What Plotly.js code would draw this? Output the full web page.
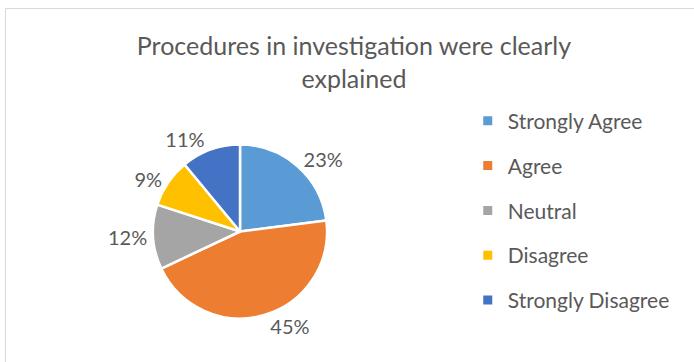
<!DOCTYPE html>
<html>
<head>
<meta charset="utf-8">
<script src="https://cdn.plot.ly/plotly-3.0.1.min.js"></script>
<style>html,body{margin:0;padding:0;background:#fff;}#chart{width:694px;height:362px;}</style>
</head>
<body>
<div id="chart"></div>
<script>
var categories = ["Strongly Agree", "Agree", "Neutral", "Disagree", "Strongly Disagree"];
var values = [23, 45, 12, 9, 11];
var colors = ["#5B9BD5", "#ED7D31", "#A5A5A5", "#FFC000", "#4472C4"];
var titleText = "Procedures in investigation were clearly<br>explained";

var FONT = "Lato, 'Open Sans', sans-serif";
var traces = [{
  type: "pie",
  labels: categories,
  values: values,
  sort: false,
  direction: "clockwise",
  rotation: 0,
  marker: {colors: colors, line: {color: "#ffffff", width: 2.5}},
  textinfo: "percent",
  textposition: "outside",
  texttemplate: "%{percent:.0%}",
  outsidetextfont: {color: "#595959", size: 20, family: FONT},
  showlegend: false,
  hoverinfo: "none",
  domain: {x: [0.2205, 0.4712], y: [0.1202, 0.6008]}
}];
categories.forEach(function (c, i) {
  traces.push({
    type: "scatter",
    mode: "markers",
    x: [null], y: [null],
    name: c,
    legendgroup: "g" + i,
    marker: {symbol: "square", size: 9, color: colors[i]},
    showlegend: true,
    hoverinfo: "none"
  });
});

var layout = {
  width: 694, height: 362,
  margin: {l: 0, r: 0, t: 0, b: 0},
  paper_bgcolor: "#ffffff",
  plot_bgcolor: "rgba(0,0,0,0)",
  font: {family: FONT, color: "#595959"},
  title: {text: titleText, x: 0.51, xanchor: "center", y: 0.848, yanchor: "top",
          font: {size: 25, color: "#595959", family: FONT}},
  xaxis: {visible: false}, yaxis: {visible: false},
  showlegend: true,
  legend: {x: 0.674, y: 0.722, xanchor: "left", yanchor: "top",
           font: {size: 21, color: "#595959", family: FONT},
           tracegroupgap: 14.5, bgcolor: "rgba(0,0,0,0)"},
  shapes: [
    {type: "line", xref: "paper", yref: "paper", x0: 5.5/694, x1: 5.5/694, y0: 0, y1: 1 - 8.5/362,
     line: {color: "#D9D9D9", width: 1}},
    {type: "line", xref: "paper", yref: "paper", x0: 5.5/694, x1: 1, y0: 1 - 8.5/362, y1: 1 - 8.5/362,
     line: {color: "#D9D9D9", width: 1}}
  ]
};
Plotly.newPlot("chart", traces, layout, {displayModeBar: false, staticPlot: true});
</script>
</body>
</html>
